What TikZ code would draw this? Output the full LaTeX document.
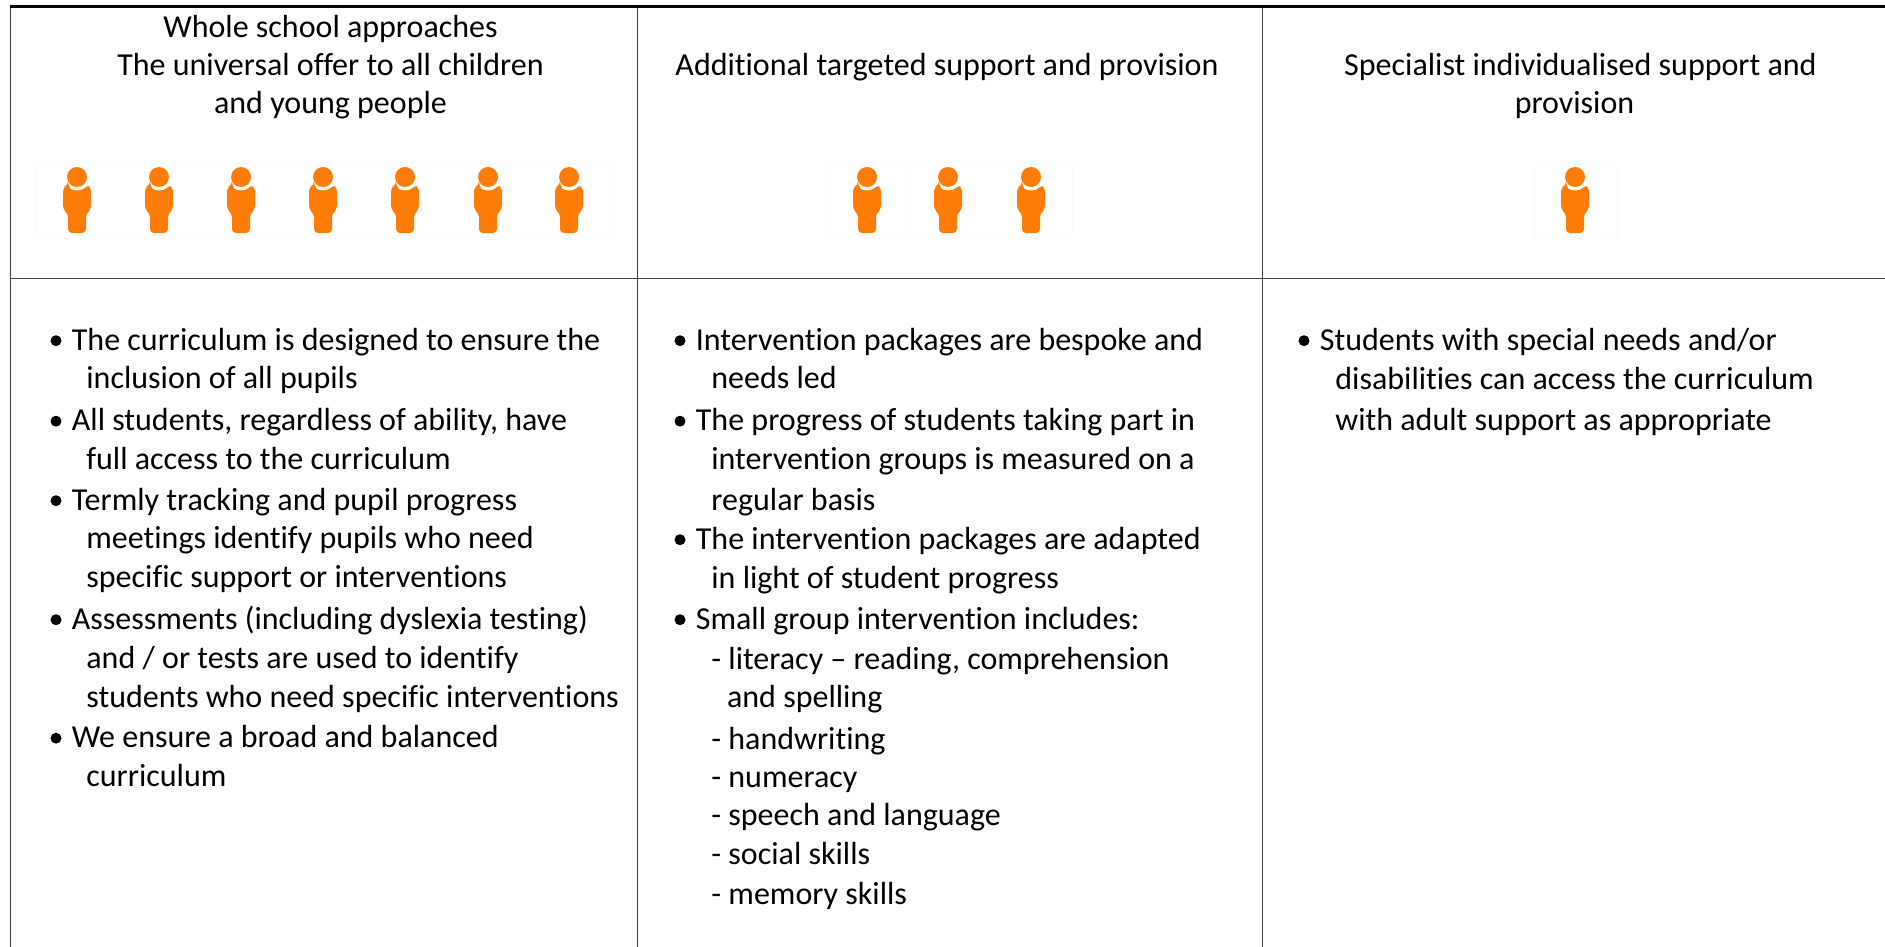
\documentclass[tikz,border=0pt]{standalone}
\usepackage{fontspec}
\setmainfont[Ligatures={NoCommon}]{Carlito}
\definecolor{figorange}{HTML}{FF7C08}
\tikzset{
  x=0.5pt,y=-0.5pt,
  rule/.style={draw=black!75,line width=0.5pt},
  midrule/.style={draw=black!75,line width=0.9pt},
  heavy/.style={draw=black,line width=1.6pt},
  head/.style={anchor=base,font=\fontsize{16}{18}\selectfont,inner sep=0pt},
  txt/.style={anchor=base west,font=\fontsize{16}{18}\selectfont,inner sep=0pt},
  frame/.style={draw=black!2,line width=0.3pt},
  pers/.style={fill=figorange},
}
\newcommand{\person}[2]{%
  \begin{scope}[shift={(#1,#2)}]
    \fill[pers] (0,0) circle[radius=10];
    \fill[pers,rounded corners=2pt] (-9,8.5) -- (-14,10) -- (-14,33) -- (-9,36) -- (-9,56) -- (9,56) -- (9,36) -- (14,33) -- (14,10) -- (9,8.5) .. controls (5,14) and (-5,14) .. cycle;
  \end{scope}}
\newcommand{\bul}[3]{\fill (#1,#2-9.3) circle[radius=5.5];\node[txt] at (#1+15.5,#2) {#3};}
\newcommand{\lin}[3]{\node[txt] at (#1,#2) {#3};}
\begin{document}
\begin{tikzpicture}
\useasboundingbox (0,0) rectangle (1885,947);
\fill[white] (0,0) rectangle (1885,947);
\draw[rule] (10,6) -- (10,947);
\draw[rule] (637,6) -- (637,947);
\draw[rule] (1262,6) -- (1262,947);
\draw[midrule] (10,278.5) -- (1885,278.5);
\draw[heavy] (10,6.5) -- (1885,6.5);
\node[head] at (330.5,38) {Whole school approaches};
\node[head] at (330.5,76) {The universal offer to all children};
\node[head] at (330.5,114) {and young people};
\node[head] at (947,76) {Additional targeted support and provision};
\node[head] at (1580.5,76) {Specialist individualised support and};
\node[head] at (1574.5,114) {provision};
\draw[frame] (36,163) rectangle (610,238);
\draw[frame] (826,163) rectangle (909,238) (909,163) rectangle (1072,238);
\draw[frame] (1534,163) rectangle (1617,238);
\foreach \x in {77,159,241,323,405,488,569,867,948,1031,1575} {\person{\x}{177}}
\bul{56}{350}{The curriculum is designed to ensure the}
\lin{86}{388.7}{inclusion of all pupils}
\bul{56}{430.5}{All students, regardless of ability, have}
\lin{86}{469.3}{full access to the curriculum}
\bul{56}{510}{Termly tracking and pupil progress}
\lin{86}{548.7}{meetings identify pupils who need}
\lin{86}{587.7}{specific support or interventions}
\bul{56}{629}{Assessments (including dyslexia testing)}
\lin{86}{668.5}{and / or tests are used to identify}
\lin{86}{707.5}{students who need specific interventions}
\bul{56}{747.5}{We ensure a broad and balanced}
\lin{86}{786.5}{curriculum}
\bul{680}{350}{Intervention packages are bespoke and}
\lin{711}{388.7}{needs led}
\bul{680}{430.5}{The progress of students taking part in}
\lin{711}{469.3}{intervention groups is measured on a}
\lin{711}{510}{regular basis}
\bul{680}{549}{The intervention packages are adapted}
\lin{711}{588}{in light of student progress}
\bul{680}{629}{Small group intervention includes:}
\lin{711}{669}{- literacy – reading, comprehension}
\lin{726.7}{707.7}{and spelling}
\lin{711}{749}{- handwriting}
\lin{711}{787.7}{- numeracy}
\lin{711}{825}{- speech and language}
\lin{711}{864.3}{- social skills}
\lin{711}{904}{- memory skills}
\bul{1304}{350}{Students with special needs and/or}
\lin{1335}{389}{disabilities can access the curriculum}
\lin{1335}{430.7}{with adult support as appropriate}
\end{tikzpicture}
\end{document}
